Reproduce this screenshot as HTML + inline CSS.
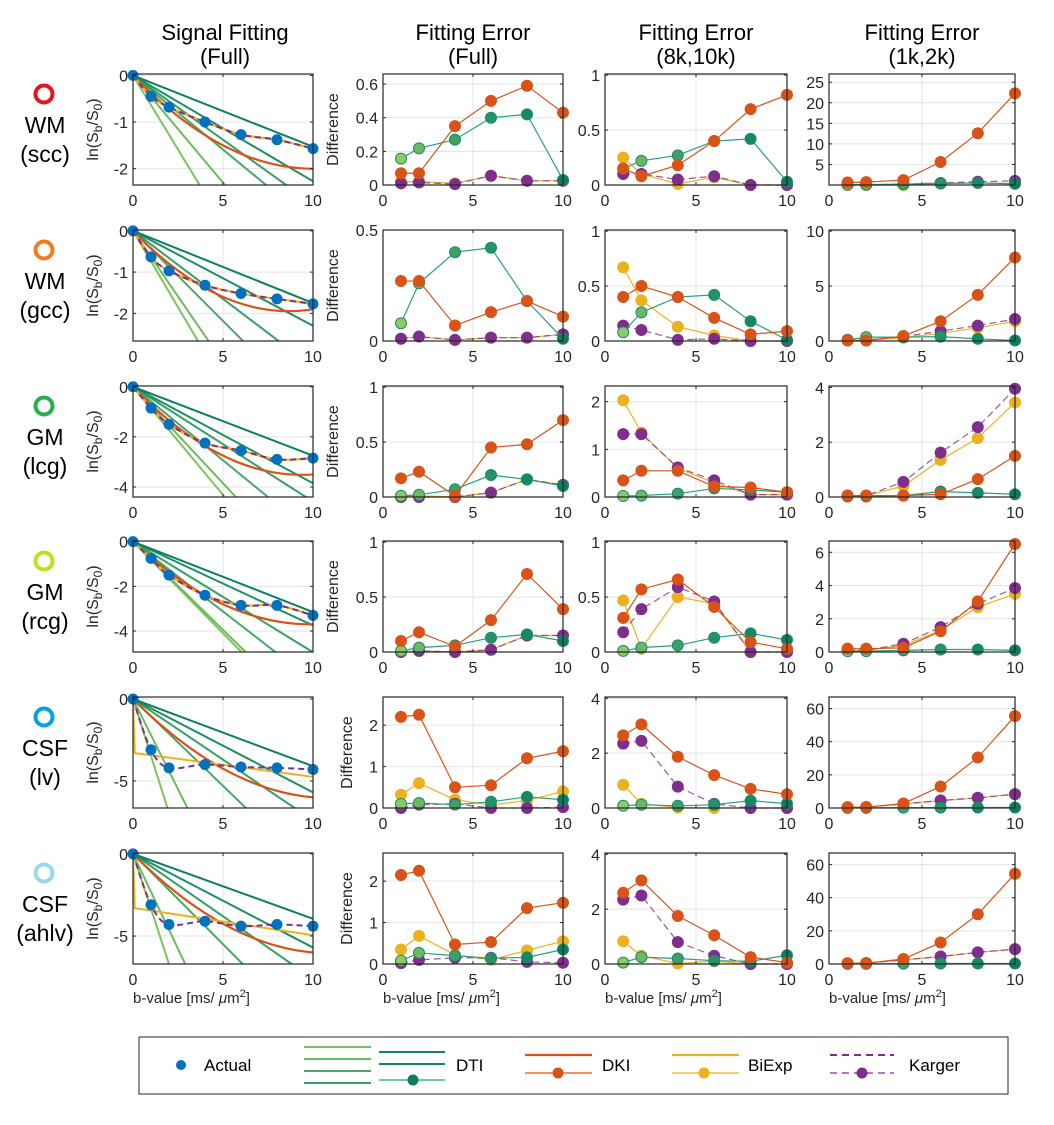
<!DOCTYPE html>
<html><head><meta charset="utf-8"><style>
html,body{margin:0;padding:0;background:#fff;overflow:hidden;width:1054px;height:1125px}
svg{display:block;font-family:"Liberation Sans",sans-serif}
</style></head><body>
<svg id="fig" width="1054" height="1125" viewBox="0 0 1054 1125" xmlns="http://www.w3.org/2000/svg"></svg>
<script>
// ---------- DATA ----------
const bSignal=[0,1,2,4,6,8,10];
const bErr=[1,2,4,6,8,10];
const regionNames=["WM","WM","GM","GM","CSF","CSF"];
const regionSubs=["(scc)","(gcc)","(lcg)","(rcg)","(lv)","(ahlv)"];
const colTitles1=["Signal Fitting","Fitting Error","Fitting Error","Fitting Error"];
const colTitles2=["(Full)","(Full)","(8k,10k)","(1k,2k)"];
// signal fitting
const actualSignal=[
[0,-0.45,-0.68,-1.0,-1.27,-1.38,-1.57],
[0,-0.63,-0.97,-1.32,-1.52,-1.65,-1.77],
[0,-0.85,-1.5,-2.25,-2.55,-2.9,-2.85],
[0,-0.75,-1.5,-2.4,-2.85,-2.85,-3.3],
[0,-3.1,-4.2,-4.0,-4.15,-4.2,-4.3],
[0,-3.1,-4.3,-4.1,-4.4,-4.3,-4.4]];
const dtiSlopes=[
[-0.635,-0.46,-0.318,-0.276,-0.227,-0.153],
[-0.74,-0.636,-0.437,-0.33,-0.23,-0.175],
[-0.863,-0.77,-0.587,-0.458,-0.385,-0.275],
[-0.82,-0.79,-0.625,-0.495,-0.375,-0.315],
[-3.47,-2.2,-1.06,-0.74,-0.57,-0.41],
[-3.35,-2.31,-1.1,-0.76,-0.57,-0.395]];
const dkiD=[0.4,0.45,0.75,0.75,1.1,1.1];
const dkiK=[0.02,0.026,0.04,0.038,0.05,0.05];
const biexpIntercept=[null,null,null,null,-3.3,-3.3];
const biexpEnd=[null,null,null,null,-4.75,-4.95];
// Fitting error (Full)
const fullDTI=[[0.157,0.218,0.27,0.40,0.42,0.03],[0.08,0.26,0.40,0.42,0.18,0.01],[0.01,0.02,0.07,0.2,0.16,0.1],[0.01,0.04,0.06,0.13,0.16,0.1],[0.1,0.12,0.08,0.15,0.27,0.2],[0.08,0.27,0.2,0.14,0.16,0.35]];
const fullDKI=[[0.07,0.07,0.35,0.50,0.59,0.43],[0.27,0.27,0.07,0.13,0.18,0.11],[0.17,0.23,0.01,0.45,0.48,0.7],[0.1,0.18,0.05,0.29,0.71,0.39],[2.2,2.25,0.5,0.55,1.2,1.37],[2.15,2.25,0.47,0.53,1.35,1.48]];
const fullBiExp=[[0.02,0.02,0.01,0.055,0.025,0.025],[0.01,0.02,0.005,0.015,0.015,0.03],[0.0,0.01,0.0,0.04,0.16,0.11],[0.0,0.01,0.0,0.02,0.15,0.15],[0.32,0.6,0.2,0.07,0.18,0.4],[0.35,0.68,0.22,0.1,0.33,0.55]];
const fullKarger=[[0.01,0.015,0.005,0.055,0.025,0.025],[0.01,0.02,0.005,0.015,0.015,0.03],[0.0,0.0,0.0,0.04,0.16,0.11],[0.0,0.01,0.0,0.02,0.15,0.15],[0.0,0.08,0.1,0.0,0.0,0.02],[0.02,0.1,0.15,0.15,0.05,0.03]];
// Fitting error (8k,10k)
const hiDTI=[[0.15,0.22,0.27,0.4,0.42,0.03],[0.08,0.26,0.4,0.42,0.18,0.01],[0.02,0.03,0.07,0.18,0.15,0.1],[0.01,0.04,0.06,0.13,0.17,0.11],[0.08,0.12,0.08,0.12,0.27,0.16],[0.05,0.25,0.2,0.12,0.1,0.32]];
const hiDKI=[[0.15,0.08,0.18,0.4,0.69,0.82],[0.4,0.5,0.4,0.21,0.06,0.09],[0.35,0.55,0.55,0.22,0.2,0.1],[0.31,0.57,0.66,0.41,0.09,0.03],[2.65,3.05,1.87,1.2,0.7,0.5],[2.6,3.05,1.75,1.05,0.25,0.05]];
const hiBiExp=[[0.25,0.1,0.01,0.07,0.0,0.0],[0.67,0.37,0.13,0.05,0.0,0.0],[2.03,1.35,0.6,0.3,0.05,0.05],[0.47,0.03,0.5,0.44,0.0,0.0],[0.85,0.15,0.02,0.0,0.0,0.0],[0.83,0.3,0.02,0.1,0.0,0.0]];
const hiKarger=[[0.1,0.1,0.05,0.08,0.0,0.0],[0.14,0.1,0.01,0.02,0.0,0.0],[1.32,1.32,0.62,0.35,0.05,0.05],[0.18,0.39,0.59,0.46,0.0,0.0],[2.35,2.45,0.78,0.15,0.0,0.0],[2.35,2.5,0.8,0.3,0.0,0.0]];
// Fitting error (1k,2k)
const loDTI=[[0.1,0.1,0.2,0.4,0.5,0.3],[0.1,0.35,0.35,0.4,0.2,0.05],[0.02,0.02,0.05,0.2,0.15,0.1],[0.05,0.05,0.1,0.15,0.15,0.1],[0.1,0.1,0.2,0.3,0.3,0.3],[0.1,0.1,0.2,0.3,0.3,0.3]];
const loDKI=[[0.6,0.7,1.2,5.6,12.6,22.3],[0.05,0.05,0.45,1.8,4.2,7.6],[0.05,0.05,0.05,0.1,0.65,1.5],[0.2,0.2,0.25,1.25,3.05,6.5],[0.5,0.5,2.7,13,30.5,55.5],[0.5,0.5,3,13,30,54.5]];
const loBiExp=[[0,0,0,0.3,0.5,0.3],[0.05,0.05,0.3,0.7,1.2,1.8],[0.05,0.05,0.4,1.35,2.15,3.45],[0.1,0.1,0.4,1.3,2.7,3.5],[0.3,0.5,2.5,4.5,6,8.5],[0.3,0.5,2.5,4.5,7,9]];
const loKarger=[[0.1,0.1,0.2,0.5,0.8,1.0],[0.1,0.1,0.4,0.9,1.4,2.0],[0.05,0.05,0.55,1.62,2.55,3.95],[0.1,0.1,0.5,1.5,2.9,3.85],[0.3,0.5,2.5,4.5,6.2,8.3],[0.3,0.5,2.5,4.5,7,9]];
// axis limits & ticks
const yLimits=[
[[-2.35,0.03],[0,0.66],[0,1.01],[0,27]],
[[-2.67,0.02],[0,0.5],[0,1.01],[0,10.1]],
[[-4.4,0.03],[0,1.01],[0,2.33],[0,4.05]],
[[-4.94,0.03],[0,1.01],[0,1.01],[0,6.68]],
[[-6.65,0.12],[0,2.68],[0,4.05],[0,67]],
[[-6.7,0.05],[0,2.68],[0,4.05],[0,67]]];
const yTicks=[
[[0,-1,-2],[0,0.2,0.4,0.6],[0,0.5,1],[5,10,15,20,25]],
[[0,-1,-2],[0,0.5],[0,0.5,1],[0,5,10]],
[[0,-2,-4],[0,0.5,1],[0,1,2],[0,2,4]],
[[0,-2,-4],[0,0.5,1],[0,0.5,1],[0,2,4,6]],
[[0,-5],[0,1,2],[0,2,4],[0,20,40,60]],
[[0,-5],[0,1,2],[0,2,4],[0,20,40,60]]];
const xTicks=[0,5,10];

// ---------- LAYOUT ----------
const colX=[133,383,605,829], colW=[180,180,182,186];
const rowY=[74,230,386,541,697,853], rowH=111;
const C={actual:'#0072bd',dki:'#d95319',bi:'#edb120',kar:'#7e2f8e',dtiLine:'#27a07f',
 dtiLines:['#7cc35f','#6cba5e','#4aa866','#35a066','#1d8f64','#0e7f5e'],
 dtiMk:['#8dc965','#6cb964','#3fa066','#23936a','#138a64','#0b7d5d'],
 regions:['#e8141c','#f47a20','#22b14c','#b5e61d','#00a2e8','#99d9ea']};
const NS='http://www.w3.org/2000/svg';
const svg=document.getElementById('fig');
function mk(tag,attrs,parent){const e=document.createElementNS(NS,tag);for(const k in attrs)e.setAttribute(k,attrs[k]);(parent||svg).appendChild(e);return e;}
function fmt(v){return (Math.abs(v)<1e-9?'0':String(v));}
function smoothPath(pts){let d='M'+pts[0][0]+','+pts[0][1];for(let i=0;i<pts.length-1;i++){const p0=pts[Math.max(0,i-1)],p1=pts[i],p2=pts[i+1],p3=pts[Math.min(pts.length-1,i+2)];const c1x=p1[0]+(p2[0]-p0[0])/6,c1y=p1[1]+(p2[1]-p0[1])/6,c2x=p2[0]-(p3[0]-p1[0])/6,c2y=p2[1]-(p3[1]-p1[1])/6;d+=' C'+c1x+','+c1y+' '+c2x+','+c2y+' '+p2[0]+','+p2[1];}return d;}

// titles
for(let c=0;c<4;c++){
 const cx=colX[c]+colW[c]/2+(c===0?2:0);
 const t1=mk('text',{x:cx,y:40,'text-anchor':'middle','font-size':'22',fill:'#000'});t1.textContent=colTitles1[c];
 
 const t2=mk('text',{x:cx,y:64,'text-anchor':'middle','font-size':'22',fill:'#000'});t2.textContent=colTitles2[c];
 
}
// row labels
for(let r=0;r<6;r++){
 const g=mk('g',{});
 mk('circle',{cx:44,cy:rowY[r]+20,r:8.5,fill:'none',stroke:C.regions[r],'stroke-width':4},g);
 const a=mk('text',{x:45,y:rowY[r]+59,'text-anchor':'middle','font-size':'23'},g);a.textContent=regionNames[r];
 const b=mk('text',{x:45,y:rowY[r]+88,'text-anchor':'middle','font-size':'23'},g);b.textContent=regionSubs[r];
}

function panel(r,c){
 const x0=colX[c],w=colW[c],y0=rowY[r],h=rowH;const [ymin,ymax]=yLimits[r][c];
 const sx=b=>x0+b/10*w, sy=v=>y0+(ymax-v)/(ymax-ymin)*h;
 const g=mk('g',{});
 mk('rect',{x:x0,y:y0,width:w,height:h,fill:'#fff'},g);
 mk('line',{x1:sx(5),x2:sx(5),y1:y0,y2:y0+h,stroke:'#e3e3e3','stroke-width':1},g);
 yTicks[r][c].forEach(t=>{const y=sy(t);if(y>y0+1&&y<y0+h-1)mk('line',{x1:x0,x2:x0+w,y1:y,y2:y,stroke:'#e3e3e3','stroke-width':1},g);});
 const clipId='clip'+r+'_'+c;const cp=mk('clipPath',{id:clipId},g);mk('rect',{x:x0,y:y0,width:w,height:h},cp);
 const plot=mk('g',{'clip-path':'url(#'+clipId+')'},g);
 if(c===0){
  dtiSlopes[r].forEach((s,i)=>{const l=mk('line',{x1:sx(0),y1:sy(0),x2:sx(10),y2:sy(s*10),stroke:C.dtiLines[i],'stroke-width':2},plot);
   });
  let pts=[];for(let b=0;b<=10.001;b+=0.25)pts.push([sx(b),sy(-dkiD[r]*b+dkiK[r]*b*b)]);
  const dk=mk('polyline',{points:pts.map(p=>p.join(',')).join(' '),fill:'none',stroke:C.dki,'stroke-width':2.2},plot);
  
  const ap=bSignal.map((b,i)=>[sx(b),sy(actualSignal[r][i])]);
  let bp;
  if(biexpIntercept[r]!==null){bp=mk('polyline',{points:[[sx(0),sy(0)],[sx(0.1),sy(biexpIntercept[r])],[sx(10),sy(biexpEnd[r])]].map(p=>p.join(',')).join(' '),fill:'none',stroke:C.bi,'stroke-width':2},plot);}
  else{bp=mk('path',{d:smoothPath(ap),fill:'none',stroke:C.bi,'stroke-width':2.2},plot);}
  
  const kp=mk('path',{d:smoothPath(ap),fill:'none',stroke:C.kar,'stroke-width':2,'stroke-dasharray':'6,4'},plot);
  
  ap.forEach(p=>{const m=mk('circle',{cx:p[0],cy:p[1],r:5.5,fill:C.actual},g);
   });
 } else {
  const sets=c===1?[fullBiExp,fullKarger,fullDTI,fullDKI]:c===2?[hiBiExp,hiKarger,hiDTI,hiDKI]:[loBiExp,loKarger,loDTI,loDKI];
  const names=['biexp','karger','dti','dki'];
  sets.forEach((set,si)=>{
   const vals=set[r];const pts=bErr.map((b,i)=>[sx(b),sy(vals[i])]);
   const col=si===0?C.bi:si===1?C.kar:si===2?C.dtiLine:C.dki;
   const pl=mk('polyline',{points:pts.map(p=>p.join(',')).join(' '),fill:'none',stroke:col,'stroke-width':1.2},g);
   if(si===1){pl.setAttribute('stroke-dasharray','7,4');pl.setAttribute('opacity','0.8');}
   
   pts.forEach((p,i)=>{const f=si===2?C.dtiMk[i]:col;
    const m=mk('circle',{cx:p[0],cy:p[1],r:5.5,fill:f,stroke:si===2?'#1b8a6a':col,'stroke-width':1},g);
    });
  });
 }
 mk('rect',{x:x0,y:y0,width:w,height:h,fill:'none',stroke:'#262626','stroke-width':1.2},g);
 xTicks.forEach(t=>{const x=sx(t);mk('line',{x1:x,x2:x,y1:y0+h,y2:y0+h-3,stroke:'#262626'},g);mk('line',{x1:x,x2:x,y1:y0,y2:y0+3,stroke:'#262626'},g);
  const tl=mk('text',{x:x,y:y0+h+21,'text-anchor':'middle','font-size':'16',fill:'#262626'},g);tl.textContent=fmt(t);
  });
 yTicks[r][c].forEach(t=>{const y=sy(t);mk('line',{x1:x0,x2:x0+3,y1:y,y2:y,stroke:'#262626'},g);mk('line',{x1:x0+w,x2:x0+w-3,y1:y,y2:y,stroke:'#262626'},g);
  const tl=mk('text',{x:x0-5,y:y+6,'text-anchor':'end','font-size':'16',fill:'#262626'},g);tl.textContent=fmt(t);
  });
 if(c===0){const yl=mk('text',{transform:'translate(98,'+(y0+h/2)+') rotate(-90)','text-anchor':'middle','font-size':'16',fill:'#262626'},g);
  yl.innerHTML='ln(S<tspan dy="4" font-size="12">b</tspan><tspan dy="-4">/S</tspan><tspan dy="4" font-size="12">0</tspan><tspan dy="-4">)</tspan>';
  }
 if(c===1){const yl=mk('text',{transform:'translate('+(r>=4?352:338)+','+(y0+h/2)+') rotate(-90)','text-anchor':'middle','font-size':'16',fill:'#262626'},g);
  yl.textContent='Difference';}
 if(r===5){const xl=mk('text',{x:x0,y:1003,'font-size':'15',fill:'#262626'},g);
  xl.innerHTML='b-value [ms/ <tspan font-style="italic">μ</tspan>m<tspan dy="-6" font-size="11">2</tspan><tspan dy="6">]</tspan>';
  }
}
for(let r=0;r<6;r++)for(let c=0;c<4;c++)panel(r,c);

// legend
const lg=mk('g',{});
mk('rect',{x:139,y:1037,width:869,height:57,fill:'#fff',stroke:'#262626','stroke-width':1},lg);
function ltext(x,t,name){const e=mk('text',{x:x,y:1071,'font-size':'17',fill:'#000'},lg);e.textContent=t;}
const la=mk('circle',{cx:181,cy:1065,r:5,fill:C.actual},lg);
ltext(204,'Actual','legend-actual-label');
[1047,1059,1071,1083].forEach((y,i)=>mk('line',{x1:304,x2:371,y1:y,y2:y,stroke:C.dtiLines[i],'stroke-width':2},lg));
mk('line',{x1:379,x2:445,y1:1052,y2:1052,stroke:'#12855f','stroke-width':2},lg);
mk('line',{x1:379,x2:445,y1:1064,y2:1064,stroke:'#12855f','stroke-width':2},lg);
mk('line',{x1:379,x2:445,y1:1080,y2:1080,stroke:C.dtiLine,'stroke-width':1.2},lg);
mk('circle',{cx:413,cy:1080,r:5.5,fill:'#0b7d5d'},lg);
ltext(456,'DTI','legend-dti-label');
mk('line',{x1:525,x2:592,y1:1055,y2:1055,stroke:C.dki,'stroke-width':2.2},lg);
mk('line',{x1:525,x2:592,y1:1073,y2:1073,stroke:C.dki,'stroke-width':1.2},lg);
mk('circle',{cx:558,cy:1073,r:5.5,fill:C.dki},lg);
ltext(602,'DKI','legend-dki-label');
mk('line',{x1:672,x2:739,y1:1055,y2:1055,stroke:C.bi,'stroke-width':2.2},lg);
mk('line',{x1:672,x2:739,y1:1073,y2:1073,stroke:C.bi,'stroke-width':1.2},lg);
mk('circle',{cx:704,cy:1073,r:5.5,fill:C.bi},lg);
ltext(748,'BiExp','legend-biexp-label');
mk('line',{x1:830,x2:894,y1:1055,y2:1055,stroke:C.kar,'stroke-width':2,'stroke-dasharray':'7,5'},lg);
mk('line',{x1:830,x2:894,y1:1073,y2:1073,stroke:C.kar,'stroke-width':1.2,'stroke-dasharray':'7,5'},lg);
mk('circle',{cx:862,cy:1073,r:5.5,fill:C.kar},lg);
ltext(909,'Karger','legend-karger-label');
</script>
</body></html>
